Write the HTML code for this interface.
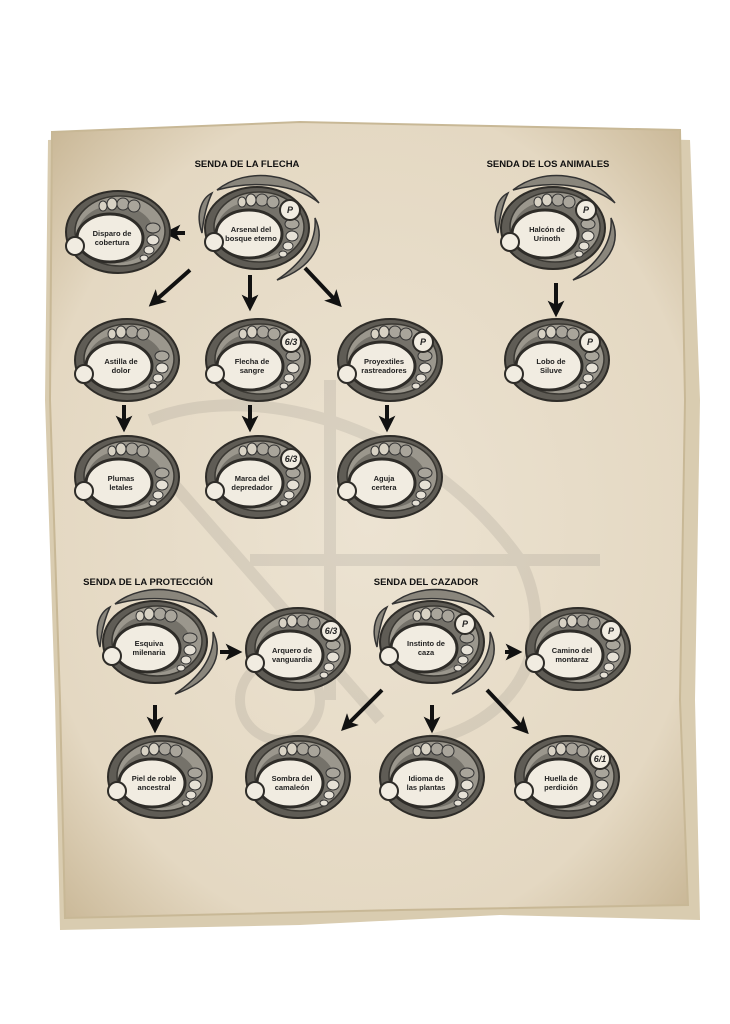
<!DOCTYPE html>
<html><head><meta charset="utf-8"><style>
html,body{margin:0;padding:0;background:#fff;}
svg{display:block}
text{font-family:"Liberation Sans",sans-serif;}
.l{font-size:7.5px;font-weight:bold;fill:#222;text-anchor:middle}
.h{font-size:9.5px;font-weight:bold;fill:#111;text-anchor:middle}
.b{font-size:9px;font-weight:bold;font-style:italic;fill:#222;text-anchor:middle}
</style></head><body>
<svg width="730" height="1024" viewBox="0 0 730 1024" xmlns="http://www.w3.org/2000/svg">
<defs>
<marker id="ah" viewBox="0 0 10 10" refX="5" refY="5" markerWidth="4.2" markerHeight="4.2" orient="auto"><path d="M0,0 L10,5 L0,10 L2.5,5 z" fill="#111"/></marker>
<radialGradient id="pg" cx="50%" cy="50%" r="70%"><stop offset="0" stop-color="#ece3d2"/><stop offset="0.75" stop-color="#e4d8c2"/><stop offset="1" stop-color="#c9b796"/></radialGradient>
<g id="node">
<ellipse cx="0" cy="0" rx="52" ry="41" fill="#5f5c55" stroke="#2e2c28" stroke-width="2"/>
<ellipse cx="2" cy="-1" rx="45" ry="35" fill="#9b978d" stroke="#3a3833" stroke-width="1.5"/>
<ellipse cx="-2" cy="2" rx="38" ry="29" fill="#75726a"/>
<ellipse cx="-8" cy="6" rx="33" ry="24" fill="#f1ece1" stroke="#2e2c28" stroke-width="3"/>
<ellipse cx="-15" cy="-26" rx="4" ry="5" fill="#d8d2c4" stroke="#333"/>
<ellipse cx="-6" cy="-28" rx="5" ry="6" fill="#d8d2c4" stroke="#333"/>
<ellipse cx="5" cy="-28" rx="6" ry="6" fill="#a9a59b" stroke="#333"/>
<ellipse cx="16" cy="-26" rx="6" ry="6" fill="#a9a59b" stroke="#333"/>
<ellipse cx="35" cy="-4" rx="7" ry="5" fill="#a9a59b" stroke="#333"/>
<ellipse cx="35" cy="8" rx="6" ry="5" fill="#e6e1d6" stroke="#333"/>
<ellipse cx="31" cy="18" rx="5" ry="4" fill="#e6e1d6" stroke="#333"/>
<ellipse cx="26" cy="26" rx="4" ry="3" fill="#e6e1d6" stroke="#333"/>
<circle cx="-43" cy="14" r="9" fill="#f1ece1" stroke="#2e2c28" stroke-width="2"/>
</g>
<g id="swoosh">
<path d="M-40,-38 C-10,-62 40,-55 62,-25 C45,-40 5,-50 -40,-38 z" fill="#8a867c" stroke="#333" stroke-width="1.5"/>
<path d="M58,-10 C70,15 55,40 20,52 C45,35 60,15 58,-10 z" fill="#8a867c" stroke="#333" stroke-width="1.5"/>
<path d="M-55,5 C-62,-15 -55,-30 -45,-35 C-52,-20 -54,-5 -55,5 z" fill="#8a867c" stroke="#333" stroke-width="1.5"/>
</g>
<g id="badge"><circle cx="33" cy="-18" r="10" fill="#f1ece1" stroke="#2e2c28" stroke-width="2"/></g>
</defs>
<rect width="730" height="1024" fill="#fff"/>
<path d="M48,140 L300,128 L480,135 L690,140 L700,400 L695,700 L700,920 L500,915 L300,925 L60,930 L55,700 L45,400 z" fill="#d9ccb0"/>
<path d="M52,132 L300,122 L680,130 L685,400 L680,700 L688,905 L400,910 L65,918 L60,700 L50,400 z" fill="url(#pg)" stroke="#c8b896" stroke-width="2"/>
<g opacity="0.1" stroke="#444" fill="none" stroke-width="12">
<path d="M150,420 C250,380 420,420 520,560 C560,640 520,720 430,740"/>
<path d="M170,480 L380,720"/>
<path d="M330,700 L330,380"/>
<path d="M250,560 L600,560"/>
<circle cx="280" cy="700" r="40" stroke-width="10"/>
</g>
<text class="h" x="247" y="167">SENDA DE LA FLECHA</text>
<text class="h" x="548" y="167">SENDA DE LOS ANIMALES</text>
<text class="h" x="148" y="585">SENDA DE LA PROTECCIÓN</text>
<text class="h" x="426" y="585">SENDA DEL CAZADOR</text>
<g stroke="#111" stroke-width="4" fill="none" marker-end="url(#ah)">
<line x1="185" y1="233" x2="172" y2="233"/>
<line x1="190" y1="270" x2="155" y2="301"/>
<line x1="250" y1="275" x2="250" y2="303"/>
<line x1="305" y1="268" x2="336" y2="301"/>
<line x1="556" y1="283" x2="556" y2="309"/>
<line x1="124" y1="405" x2="124" y2="424"/>
<line x1="250" y1="405" x2="250" y2="424"/>
<line x1="387" y1="405" x2="387" y2="424"/>
<line x1="220" y1="652" x2="234" y2="652"/>
<line x1="505" y1="652" x2="514" y2="652"/>
<line x1="155" y1="705" x2="155" y2="725"/>
<line x1="382" y1="690" x2="347" y2="725"/>
<line x1="432" y1="705" x2="432" y2="725"/>
<line x1="487" y1="690" x2="523" y2="728"/>
</g>
<g transform="translate(118,232)"><use href="#node"/><text class="l" x="-6" y="4">Disparo de</text><text class="l" x="-6" y="13">cobertura</text></g>
<g transform="translate(257,228)"><use href="#swoosh"/><use href="#node"/><use href="#badge"/><text class="b" x="33" y="-15">P</text><text class="l" x="-6" y="4">Arsenal del</text><text class="l" x="-6" y="13">bosque eterno</text></g>
<g transform="translate(553,228)"><use href="#swoosh"/><use href="#node"/><use href="#badge"/><text class="b" x="33" y="-15">P</text><text class="l" x="-6" y="4">Halcón de</text><text class="l" x="-6" y="13">Urinoth</text></g>
<g transform="translate(127,360)"><use href="#node"/><text class="l" x="-6" y="4">Astilla de</text><text class="l" x="-6" y="13">dolor</text></g>
<g transform="translate(258,360)"><use href="#node"/><use href="#badge"/><text class="b" x="33" y="-15">6/3</text><text class="l" x="-6" y="4">Flecha de</text><text class="l" x="-6" y="13">sangre</text></g>
<g transform="translate(390,360)"><use href="#node"/><use href="#badge"/><text class="b" x="33" y="-15">P</text><text class="l" x="-6" y="4">Proyextiles</text><text class="l" x="-6" y="13">rastreadores</text></g>
<g transform="translate(557,360)"><use href="#node"/><use href="#badge"/><text class="b" x="33" y="-15">P</text><text class="l" x="-6" y="4">Lobo de</text><text class="l" x="-6" y="13">Siluve</text></g>
<g transform="translate(127,477)"><use href="#node"/><text class="l" x="-6" y="4">Plumas</text><text class="l" x="-6" y="13">letales</text></g>
<g transform="translate(258,477)"><use href="#node"/><use href="#badge"/><text class="b" x="33" y="-15">6/3</text><text class="l" x="-6" y="4">Marca del</text><text class="l" x="-6" y="13">depredador</text></g>
<g transform="translate(390,477)"><use href="#node"/><text class="l" x="-6" y="4">Aguja</text><text class="l" x="-6" y="13">certera</text></g>
<g transform="translate(155,642)"><use href="#swoosh"/><use href="#node"/><text class="l" x="-6" y="4">Esquiva</text><text class="l" x="-6" y="13">milenaria</text></g>
<g transform="translate(298,649)"><use href="#node"/><use href="#badge"/><text class="b" x="33" y="-15">6/3</text><text class="l" x="-6" y="4">Arquero de</text><text class="l" x="-6" y="13">vanguardia</text></g>
<g transform="translate(432,642)"><use href="#swoosh"/><use href="#node"/><use href="#badge"/><text class="b" x="33" y="-15">P</text><text class="l" x="-6" y="4">Instinto de</text><text class="l" x="-6" y="13">caza</text></g>
<g transform="translate(578,649)"><use href="#node"/><use href="#badge"/><text class="b" x="33" y="-15">P</text><text class="l" x="-6" y="4">Camino del</text><text class="l" x="-6" y="13">montaraz</text></g>
<g transform="translate(160,777)"><use href="#node"/><text class="l" x="-6" y="4">Piel de roble</text><text class="l" x="-6" y="13">ancestral</text></g>
<g transform="translate(298,777)"><use href="#node"/><text class="l" x="-6" y="4">Sombra del</text><text class="l" x="-6" y="13">camaleón</text></g>
<g transform="translate(432,777)"><use href="#node"/><text class="l" x="-6" y="4">Idioma de</text><text class="l" x="-6" y="13">las plantas</text></g>
<g transform="translate(567,777)"><use href="#node"/><use href="#badge"/><text class="b" x="33" y="-15">6/1</text><text class="l" x="-6" y="4">Huella de</text><text class="l" x="-6" y="13">perdición</text></g>
</svg>
</body></html>
